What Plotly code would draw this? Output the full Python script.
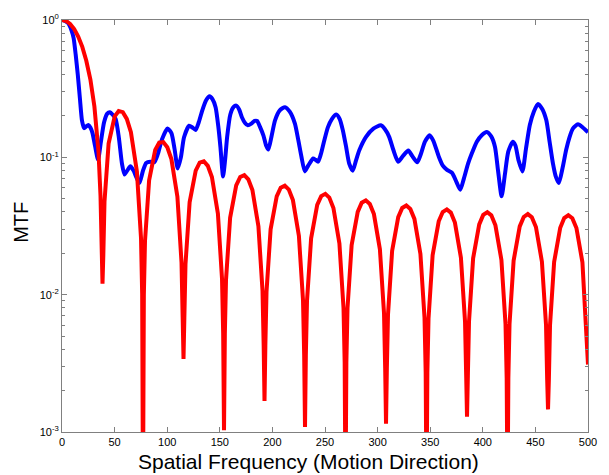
import plotly.graph_objects as go

# ---------------- data ----------------
blue_freq = [0, 3, 6, 9, 11, 13, 15, 17, 19, 21, 23, 25, 27, 29, 31.5, 34.3, 37, 40, 43, 45.5,
             48, 51, 54, 57, 59.4, 62, 65, 68, 70.5, 73.6, 77, 80, 84, 87.7, 91, 95, 100.3, 104,
             107, 110, 113, 116, 120.8, 124, 127, 130, 133.3, 137, 140.3, 143, 146, 148.5, 150.6,
             153.1, 155, 157, 160, 163, 165.7, 168.5, 171, 174, 176.7, 180, 183, 185.5, 188, 191.5,
             194, 196.2, 199, 202.5, 207, 212, 216.5, 221.4, 224.5, 227.6, 230.8, 234, 238.7, 241,
             243.4, 246, 249, 252.8, 256.5, 260.7, 264, 267, 270, 273, 276.4, 279.5, 282.7, 289,
             296, 303.1, 307, 311, 315, 319.5, 324, 329.2, 333, 337.7, 341, 345, 349.4, 353, 358.2,
             362, 366, 370.8, 375, 378.6, 382, 386, 389.6, 394.3, 399, 403.8, 408, 411.6, 414.5,
             417.9, 421, 424.2, 428.5, 431, 434, 437.7, 441, 444.7, 448.5, 452.5, 456.5, 460.4,
             463.5, 466.7, 469.5, 472.3, 476, 479.2, 482.4, 485.6, 490.5, 495, 500]
blue_mtf = [1.0, 0.985, 0.945, 0.84, 0.74, 0.56, 0.40, 0.27, 0.185, 0.163, 0.168, 0.172, 0.165,
            0.150, 0.12, 0.096, 0.13, 0.18, 0.208, 0.213, 0.205, 0.19, 0.14, 0.09, 0.075, 0.08,
            0.086, 0.08, 0.072, 0.065, 0.08, 0.091, 0.093, 0.092, 0.105, 0.135, 0.162, 0.15, 0.115,
            0.083, 0.10, 0.14, 0.17, 0.165, 0.158, 0.18, 0.219, 0.26, 0.278, 0.265, 0.232, 0.17,
            0.119, 0.0726, 0.095, 0.141, 0.205, 0.232, 0.238, 0.222, 0.196, 0.178, 0.171, 0.176,
            0.184, 0.184, 0.168, 0.144, 0.122, 0.114, 0.14, 0.186, 0.22, 0.232, 0.215, 0.176, 0.135,
            0.101, 0.079, 0.087, 0.098, 0.096, 0.093, 0.105, 0.13, 0.166, 0.19, 0.205, 0.19, 0.157,
            0.12, 0.09, 0.080, 0.095, 0.113, 0.141, 0.162, 0.171, 0.16, 0.141, 0.113, 0.093, 0.102,
            0.112, 0.102, 0.092, 0.105, 0.13, 0.145, 0.132, 0.101, 0.087, 0.081, 0.077, 0.066,
            0.058, 0.07, 0.09, 0.107, 0.130, 0.145, 0.153, 0.142, 0.119, 0.08, 0.052, 0.075, 0.110,
            0.130, 0.122, 0.095, 0.079, 0.115, 0.172, 0.215, 0.245, 0.225, 0.186, 0.13, 0.09,
            0.072, 0.065, 0.085, 0.113, 0.14, 0.162, 0.174, 0.165, 0.152]

red_freq = [0, 3.9, 7.7, 11.6, 15.4, 19.3, 23.1, 27.0, 30.8, 34.7, 36.6, 37.7, 38.5,
            39.3, 40.4, 44.3, 50.1, 53.9, 57.8, 61.6, 65.5, 71.2, 75.1, 76.2, 77.0,
            77.8, 78.9, 82.8, 88.6, 92.4, 96.3, 100.1, 104.0, 109.7, 113.6, 114.7, 115.5,
            116.3, 117.4, 121.3, 127.1, 130.9, 134.8, 138.6, 142.5, 148.2, 152.1, 153.2, 154.0,
            154.8, 155.9, 159.8, 165.6, 169.4, 173.3, 177.1, 181.0, 186.7, 190.6, 191.7, 192.5,
            193.3, 194.4, 198.3, 204.1, 207.9, 211.8, 215.6, 219.5, 225.2, 229.1, 230.2, 231.0,
            231.8, 232.9, 236.8, 242.6, 246.4, 250.3, 254.1, 258.0, 263.7, 267.6, 268.7, 269.5,
            270.3, 271.4, 275.3, 281.1, 284.9, 288.8, 292.6, 296.5, 302.2, 306.1, 307.2, 308.0,
            308.8, 309.9, 313.8, 319.6, 323.4, 327.3, 331.1, 335.0, 340.7, 344.6, 345.7, 346.5,
            347.3, 348.4, 352.3, 358.1, 361.9, 365.8, 369.6, 373.5, 379.2, 383.1, 384.2, 385.0,
            385.8, 386.9, 390.8, 396.6, 400.4, 404.3, 408.1, 412.0, 417.7, 421.6, 422.7, 423.5,
            424.3, 425.4, 429.3, 435.1, 438.9, 442.8, 446.6, 450.5, 456.2, 460.1, 461.2, 462.0,
            462.8, 463.9, 467.8, 473.6, 477.4, 481.3, 485.1, 489.0, 494.7, 498.6, 500.0]
red_mtf = [1.0, 0.9836, 0.9355, 0.8584, 0.7568, 0.6372, 0.5053, 0.3686, 0.2344, 0.1096, 0.0527, 0.0204, 0.012,
           0.01965, 0.0475, 0.1261, 0.1990, 0.2173, 0.2133, 0.1904, 0.1526, 0.0788, 0.0258, 0.0102, 0.0003,
           0.0100, 0.0245, 0.0680, 0.1134, 0.1279, 0.1292, 0.1183, 0.0971, 0.0517, 0.0172, 0.00685, 0.0034,
           0.00676, 0.0167, 0.0470, 0.0801, 0.0915, 0.0936, 0.0867, 0.0719, 0.0389, 0.0131, 0.00521, 0.00103,
           0.00517, 0.0128, 0.0363, 0.0626, 0.0720, 0.0742, 0.0692, 0.0578, 0.0315, 0.0107, 0.00426, 0.00168,
           0.00423, 0.0105, 0.0299, 0.0520, 0.0601, 0.0622, 0.0583, 0.0488, 0.0268, 0.0091, 0.00364, 0.00109,
           0.00362, 0.0090, 0.0257, 0.0450, 0.0522, 0.0542, 0.0509, 0.0428, 0.0236, 0.0080, 0.00322, 0.0003,
           0.00320, 0.0080, 0.0229, 0.0401, 0.0467, 0.0486, 0.0458, 0.0386, 0.0214, 0.0073, 0.00292, 0.00115,
           0.00291, 0.0072, 0.0208, 0.0367, 0.0428, 0.0446, 0.0421, 0.0356, 0.0198, 0.0068, 0.00271, 0.0003,
           0.00270, 0.0067, 0.0194, 0.0342, 0.0400, 0.0418, 0.0396, 0.0335, 0.0186, 0.0064, 0.00256, 0.00129,
           0.00256, 0.0064, 0.0184, 0.0325, 0.0381, 0.0398, 0.0378, 0.0320, 0.0179, 0.0061, 0.00246, 0.0003,
           0.00246, 0.0061, 0.0177, 0.0314, 0.0368, 0.0386, 0.0366, 0.0311, 0.0174, 0.0060, 0.00240, 0.00146,
           0.00240, 0.0060, 0.0173, 0.0307, 0.0361, 0.0379, 0.0360, 0.0306, 0.0172, 0.0059, 0.0031]

x_ticks = [0, 50, 100, 150, 200, 250, 300, 350, 400, 450, 500]
y_ticks = [0.001, 0.01, 0.1, 1]
y_tick_text = ["10<sup>-3</sup>", "10<sup>-2</sup>", "10<sup>-1</sup>", "10<sup>0</sup>"]

FONT = "Arial, Liberation Sans, sans-serif"
AXIS = "#808080"

fig = go.Figure()
fig.add_trace(go.Scatter(x=blue_freq, y=blue_mtf, mode="lines",
                         line=dict(color="#0000FF", width=4, shape="spline", smoothing=0.6),
                         showlegend=False))
fig.add_trace(go.Scatter(x=red_freq, y=red_mtf, mode="lines",
                         line=dict(color="#FF0000", width=4),
                         showlegend=False))

fig.update_layout(
    width=609, height=475,
    margin=dict(l=62, r=17, t=15, b=43),
    paper_bgcolor="white", plot_bgcolor="white",
    font=dict(family=FONT, color="black"),
    xaxis=dict(range=[0, 500], tickvals=x_ticks, ticks="inside", ticklen=5,
               tickcolor=AXIS, showline=True, linecolor=AXIS, linewidth=1,
               mirror="allticks", showgrid=False, zeroline=False,
               tickfont=dict(size=11, family=FONT, color="black")),
    yaxis=dict(type="log", range=[-3, 0], tickvals=y_ticks, ticktext=y_tick_text,
               ticks="inside", ticklen=5, tickcolor=AXIS, showline=True,
               linecolor=AXIS, linewidth=1, mirror="allticks", showgrid=False,
               zeroline=False, tickfont=dict(size=11, family=FONT, color="black"),
               ticklabeloverflow="allow",
               minor=dict(ticks="inside", ticklen=3, tickcolor=AXIS, dtick="D1",
                          showgrid=False)),
)

fig.add_annotation(text="Spatial Frequency (Motion Direction)", xref="paper", yref="paper",
                   x=0.468, y=-0.04, xanchor="center", yanchor="top", showarrow=False,
                   font=dict(size=21, family=FONT, color="black"))
fig.add_annotation(text="MTF", xref="paper", yref="paper", x=-0.078, y=0.51,
                   xanchor="center", yanchor="middle", textangle=-90, showarrow=False,
                   font=dict(size=20, family=FONT, color="black"))

# remove the browser's default 8px page margin so the figure sits at the window's corner
fig.write_html("out.html", config={"displayModeBar": False},
               post_script="document.body.style.margin='0px';")
